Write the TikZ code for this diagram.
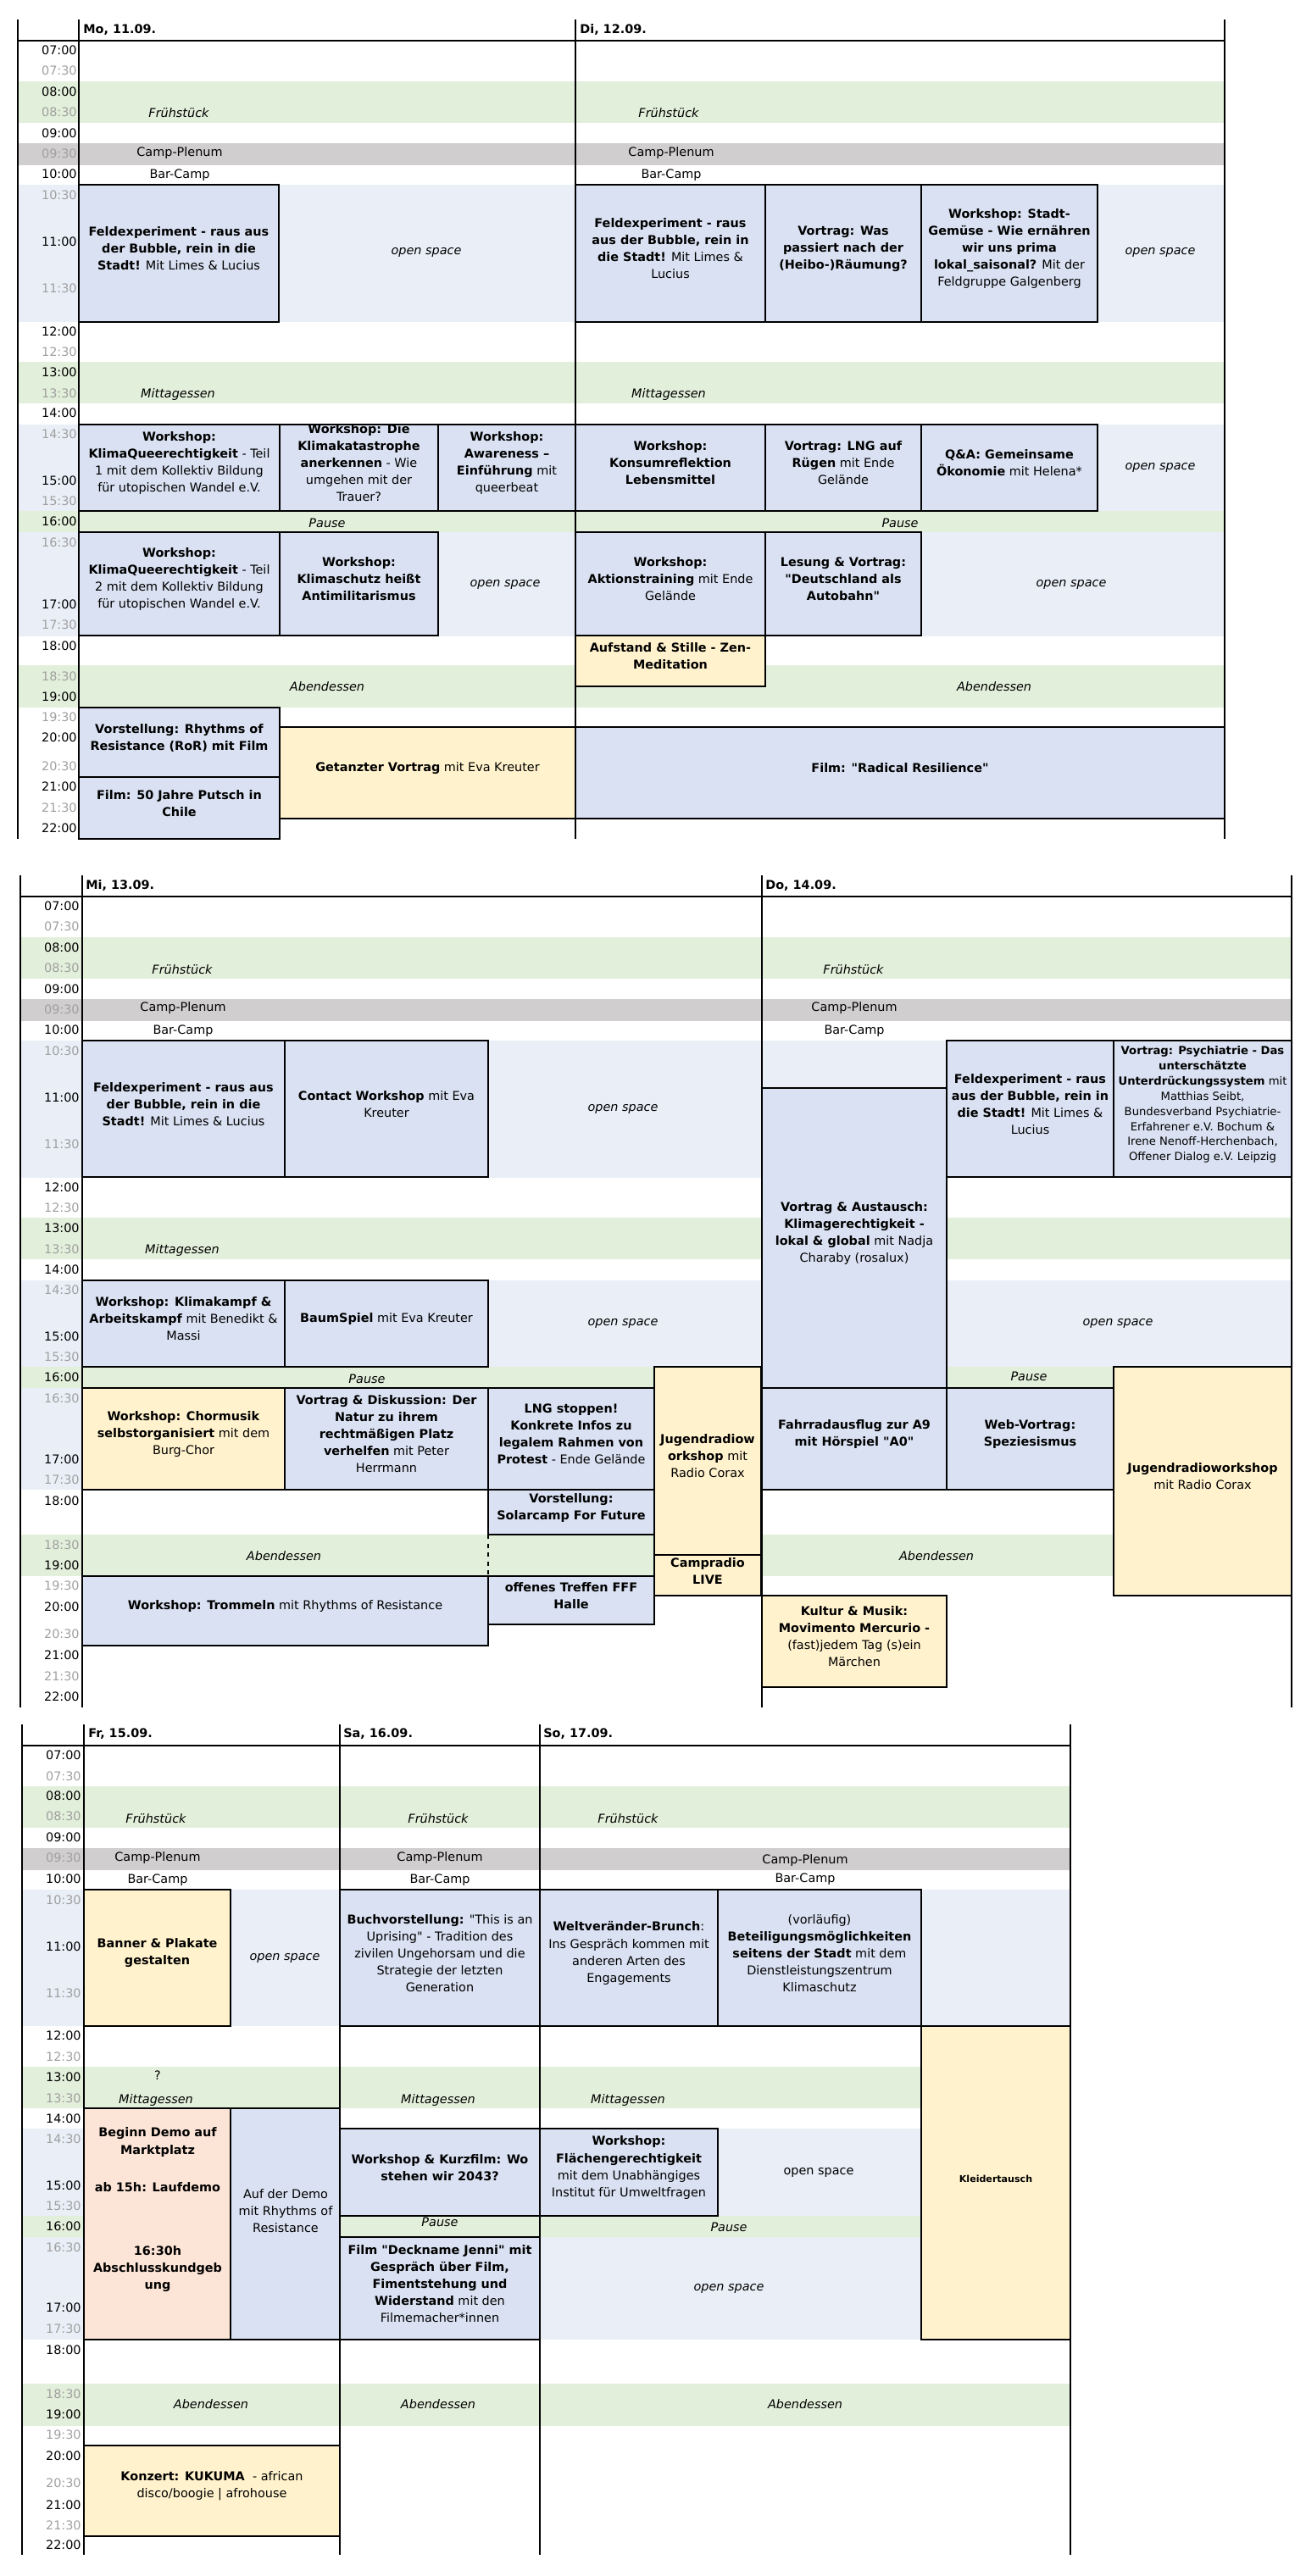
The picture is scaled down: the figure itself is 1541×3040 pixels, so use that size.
\documentclass[tikz,border=0pt]{standalone}
\usepackage{fontspec}
\setmainfont{DejaVu Sans}[Ligatures=TeXOff]
\usetikzlibrary{fit}
\definecolor{evblue}{RGB}{217,225,242}
\definecolor{evyellow}{RGB}{255,242,204}
\definecolor{evsalmon}{RGB}{252,228,214}
\definecolor{bandgreen}{RGB}{226,239,218}
\definecolor{bandgrey}{RGB}{208,206,206}
\definecolor{bandblue}{RGB}{234,238,247}
\definecolor{timegrey}{RGB}{160,160,160}
\newcommand{\evfont}{\fontsize{8.2}{11.4}\selectfont}
\newcommand{\smallevfont}{\fontsize{7.5}{10.2}\selectfont}
\newcommand{\tinyevfont}{\fontsize{6.3}{8}\selectfont}

\begin{document}
\begin{tikzpicture}[
    x=0.02cm, y=-0.02cm,
    talk/.style={rectangle, draw=black, line width=1.1pt, fill=evblue, inner sep=0pt, align=center, font=\evfont},
    fest/.style={talk, fill=evyellow},
    demo/.style={talk, fill=evsalmon},
    pausebox/.style={talk, fill=bandgreen, font=\evfont\itshape},
    grid/.style={line width=1.1pt},
    tlabel/.style={anchor=east, inner sep=0pt, font=\evfont},
    half/.style={tlabel, text=timegrey},
    meal/.style={inner sep=0pt, font=\evfont\itshape},
    plain/.style={inner sep=0pt, align=center, font=\evfont},
    day/.style={anchor=west, inner sep=0pt, font=\evfont\bfseries}
]
\useasboundingbox (0,0) rectangle (1541,3040);

% Background bands (meals, plenum, open space)
\foreach \xa/\ya/\xb/\yb/\c in {
    21/96/1445/145/bandgreen, 21/169/1445/195/bandgrey, 21/218/1445/380/bandblue,
    21/427/1445/476/bandgreen, 21/501/1445/603/bandblue, 21/603/1445/628/bandgreen,
    21/628/1445/751/bandblue, 21/785/1445/835/bandgreen,
    24/1106/1524/1155/bandgreen, 24/1179/1524/1205/bandgrey, 24/1228/1526/1390/bandblue,
    24/1437/1524/1486/bandgreen, 24/1511/1526/1613/bandblue, 24/1613/1524/1638/bandgreen,
    24/1638/1524/1758/bandblue, 24/1811/1524/1860/bandgreen,
    26/2108/1263/2157/bandgreen, 26/2181/1264/2207/bandgrey, 26/2230/1263/2391/bandblue,
    26/2439/1263/2488/bandgreen, 26/2512/1263/2761/bandblue, 26/2615/1263/2640/bandgreen,
    26/2813/1263/2863/bandgreen}
    \fill[\c] (\xa,\ya) rectangle (\xb,\yb);

% Grid lines
\foreach \x in {21,93,679,1445} \draw[grid] (\x,23) -- (\x,990);
\draw[grid] (21,48) -- (1445,48);
\foreach \x in {24,97,899,1524} \draw[grid] (\x,1033) -- (\x,2015);
\draw[grid] (24,1058) -- (1524,1058);
\foreach \x in {26,99,401,637,1263} \draw[grid] (\x,2035) -- (\x,3015);
\draw[grid] (26,2060) -- (1263,2060);
\draw[dashed, line width=0.6pt] (576,1811) -- (576,1860);

% Day headers
\node[day] (dayMo) at (98,35) {Mo, 11.09.};
\node[day] (dayDi) at (684,35) {Di, 12.09.};
\node[day] (dayMi) at (101,1045) {Mi, 13.09.};
\node[day] (dayDo) at (903,1045) {Do, 14.09.};
\node[day] (dayFr) at (104,2046) {Fr, 15.09.};
\node[day] (daySa) at (405,2046) {Sa, 16.09.};
\node[day] (daySo) at (641,2046) {So, 17.09.};

% Time column
\foreach \hh/\y [count=\i] in {07:00/59, 08:00/108, 09:00/157, 10:00/205, 11:00/285, 12:00/391, 13:00/439, 14:00/487, 15:00/567, 16:00/615, 17:00/713, 18:00/762, 19:00/822, 20:00/870, 21:00/928, 22:00/977}
    \node[tlabel] (hA\i) at (91,\y) {\hh};
\foreach \hh/\y [count=\i] in {07:30/83, 08:30/132, 09:30/181, 10:30/230, 11:30/340, 12:30/415, 13:30/464, 14:30/512, 15:30/591, 16:30/640, 17:30/737, 18:30/798, 19:30/846, 20:30/904, 21:30/953}
    \node[half] (mA\i) at (91,\y) {\hh};
\foreach \hh/\y [count=\i] in {07:00/1069, 08:00/1118, 09:00/1167, 10:00/1215, 11:00/1295, 12:00/1401, 13:00/1449, 14:00/1498, 15:00/1577, 16:00/1625, 17:00/1722, 18:00/1771, 19:00/1847, 20:00/1896, 21:00/1953, 22:00/2002}
    \node[tlabel] (hB\i) at (94,\y) {\hh};
\foreach \hh/\y [count=\i] in {07:30/1093, 08:30/1142, 09:30/1191, 10:30/1240, 11:30/1350, 12:30/1425, 13:30/1474, 14:30/1522, 15:30/1601, 16:30/1650, 17:30/1746, 18:30/1823, 19:30/1871, 20:30/1928, 21:30/1978}
    \node[half] (mB\i) at (94,\y) {\hh};
\foreach \hh/\y [count=\i] in {07:00/2071, 08:00/2119, 09:00/2168, 10:00/2217, 11:00/2297, 12:00/2402, 13:00/2451, 14:00/2500, 15:00/2579, 16:00/2627, 17:00/2723, 18:00/2773, 19:00/2849, 20:00/2898, 21:00/2956, 22:00/3003}
    \node[tlabel] (hC\i) at (96,\y) {\hh};
\foreach \hh/\y [count=\i] in {07:30/2096, 08:30/2143, 09:30/2192, 10:30/2242, 11:30/2352, 12:30/2427, 13:30/2476, 14:30/2524, 15:30/2603, 16:30/2652, 17:30/2748, 18:30/2825, 19:30/2873, 20:30/2930, 21:30/2980}
    \node[half] (mC\i) at (96,\y) {\hh};

% Monday
\node[talk, fit={(93,218) (329,380)}] (feldMo) {\textbf{Feldexperiment - raus aus}\\\textbf{der Bubble, rein in die}\\\textbf{Stadt!} Mit Limes \& Lucius};
\node[talk, fit={(93,501) (330,603)}] (queerA) {\textbf{Workshop:}\\\textbf{KlimaQueerechtigkeit} - Teil\\1 mit dem Kollektiv Bildung\\für utopischen Wandel e.V.};
\node[talk, fit={(330,501) (517,603)}] (trauer) {\textbf{Workshop: Die}\\\textbf{Klimakatastrophe}\\\textbf{anerkennen} - Wie\\umgehen mit der\\Trauer?};
\node[talk, fit={(517,501) (679,603)}] (aware) {\textbf{Workshop:}\\\textbf{Awareness –}\\\textbf{Einführung} mit\\queerbeat};
\node[talk, fit={(93,628) (330,750)}] (queerB) {\textbf{Workshop:}\\\textbf{KlimaQueerechtigkeit} - Teil\\2 mit dem Kollektiv Bildung\\für utopischen Wandel e.V.};
\node[talk, fit={(330,628) (517,750)}] (antimil) {\textbf{Workshop:}\\\textbf{Klimaschutz heißt}\\\textbf{Antimilitarismus}};
\node[talk, fit={(93,835) (330,917)}] (ror) {\textbf{Vorstellung: Rhythms of}\\\textbf{Resistance (RoR) mit Film}};
\node[talk, fit={(93,917) (330,990)}] (chile) {\textbf{Film: 50 Jahre Putsch in}\\\textbf{Chile}};
\node[fest, fit={(330,858) (679,966)}] (tanz) {\textbf{Getanzter Vortrag} mit Eva Kreuter};

% Tuesday
\node[talk, fit={(679,218) (903,380)}] (feldDi) {\textbf{Feldexperiment - raus}\\\textbf{aus der Bubble, rein in}\\\textbf{die Stadt!} Mit Limes \&\\Lucius};
\node[talk, fit={(903,218) (1087,380)}] (heibo) {\textbf{Vortrag: Was}\\\textbf{passiert nach der}\\\textbf{(Heibo-)Räumung?}};
\node[talk, fit={(1087,218) (1295,380)}] (gemuese) {\textbf{Workshop: Stadt-}\\\textbf{Gemüse - Wie ernähren}\\\textbf{wir uns prima}\\\textbf{lokal\_saisonal?} Mit der\\Feldgruppe Galgenberg};
\node[talk, fit={(679,501) (903,603)}] (konsum) {\textbf{Workshop:}\\\textbf{Konsumreflektion}\\\textbf{Lebensmittel}};
\node[talk, fit={(903,501) (1087,603)}] (lng) {\textbf{Vortrag: LNG auf}\\\textbf{Rügen} mit Ende\\Gelände};
\node[talk, fit={(1087,501) (1295,603)}] (qa) {\textbf{Q\&A: Gemeinsame}\\\textbf{Ökonomie} mit Helena*};
\node[talk, fit={(679,628) (903,750)}] (aktion) {\textbf{Workshop:}\\\textbf{Aktionstraining} mit Ende\\Gelände};
\node[talk, fit={(903,628) (1087,750)}] (autobahn) {\textbf{Lesung \& Vortrag:}\\\textbf{"Deutschland als}\\\textbf{Autobahn"}};
\node[fest, fit={(679,750) (903,810)}] (zen) {\textbf{Aufstand \& Stille - Zen-}\\\textbf{Meditation}};
\node[talk, fit={(679,858) (1445,966)}] (radical) {\textbf{Film: "Radical Resilience"}};

% Wednesday
\node[talk, fit={(97,1228) (336,1389)}] (feldMi) {\textbf{Feldexperiment - raus aus}\\\textbf{der Bubble, rein in die}\\\textbf{Stadt!} Mit Limes \& Lucius};
\node[talk, fit={(336,1228) (576,1389)}] (contact) {\textbf{Contact Workshop} mit Eva\\Kreuter};
\node[talk, fit={(97,1511) (336,1613)}] (kampf) {\textbf{Workshop: Klimakampf \&}\\\textbf{Arbeitskampf} mit Benedikt \&\\Massi};
\node[talk, fit={(336,1511) (576,1613)}] (baum) {\textbf{BaumSpiel} mit Eva Kreuter};
\node[fest, fit={(97,1638) (336,1758)}] (chor) {\textbf{Workshop: Chormusik}\\\textbf{selbstorganisiert} mit dem\\Burg-Chor};
\node[talk, fit={(336,1638) (576,1758)}] (natur) {\textbf{Vortrag \& Diskussion: Der}\\\textbf{Natur zu ihrem}\\\textbf{rechtmäßigen Platz}\\\textbf{verhelfen} mit Peter\\Herrmann};
\node[talk, fit={(576,1638) (772,1758)}] (lngstop) {\textbf{LNG stoppen!}\\\textbf{Konkrete Infos zu}\\\textbf{legalem Rahmen von}\\\textbf{Protest} - Ende Gelände};
\node[talk, fit={(576,1758) (772,1811)}] (solar) {\textbf{Vorstellung:}\\\textbf{Solarcamp For Future}};
\node[talk, fit={(97,1860) (576,1942)}] (trommel) {\textbf{Workshop: Trommeln} mit Rhythms of Resistance};
\node[talk, fit={(576,1860) (772,1917)}] (fff) {\textbf{offenes Treffen FFF}\\\textbf{Halle}};
\node[fest, fit={(772,1613) (898,1835)}] (radioMi) {\textbf{Jugendradiow}\\\textbf{orkshop} mit\\Radio Corax};
\node[fest, fit={(772,1835) (898,1883)}] (live) {\textbf{Campradio}\\\textbf{LIVE}};

% Thursday
\node[talk, fit={(899,1284) (1117,1638)}] (austausch) {\textbf{Vortrag \& Austausch:}\\\textbf{Klimagerechtigkeit -}\\\textbf{lokal \& global} mit Nadja\\Charaby (rosalux)};
\node[talk, fit={(1117,1228) (1314,1389)}] (feldDo) {\textbf{Feldexperiment - raus}\\\textbf{aus der Bubble, rein in}\\\textbf{die Stadt!} Mit Limes \&\\Lucius};
\node[talk, font=\smallevfont, fit={(1314,1228) (1524,1389)}] (psych) {\textbf{Vortrag: Psychiatrie - Das}\\\textbf{unterschätzte}\\\textbf{Unterdrückungssystem} mit\\Matthias Seibt,\\Bundesverband Psychiatrie-\\Erfahrener e.V. Bochum \&\\Irene Nenoff-Herchenbach,\\Offener Dialog e.V. Leipzig};
\node[talk, fit={(899,1638) (1117,1758)}] (rad) {\textbf{Fahrradausflug zur A9}\\\textbf{mit Hörspiel "A0"}};
\node[talk, fit={(1117,1638) (1314,1758)}] (spezies) {\textbf{Web-Vortrag:}\\\textbf{Speziesismus}};
\node[fest, fit={(1314,1613) (1524,1883)}] (radioDo) {\textbf{Jugendradioworkshop}\\mit Radio Corax};
\node[fest, fit={(899,1883) (1117,1991)}] (maerchen) {\textbf{Kultur \& Musik:}\\\textbf{Movimento Mercurio -}\\(fast)jedem Tag (s)ein\\Märchen};

% Friday
\node[fest, fit={(99,2230) (272,2391)}] (banner) {\textbf{Banner \& Plakate}\\\textbf{gestalten}};
\node[demo, fit={(99,2488) (272,2761)}] (demoFr) {};
\node[plain, font=\evfont\bfseries] (demoA) at (186,2528) {Beginn Demo auf\\Marktplatz};
\node[plain, font=\evfont\bfseries] (demoB) at (186,2581) {ab 15h: Laufdemo};
\node[plain, font=\evfont\bfseries] (demoC) at (186,2678) {16:30h\\Abschlusskundgeb\\ung};
\node[talk, fit={(272,2488) (401,2761)}] (aufDemo) {};
\node[plain] (aufDemoTxt) at (337,2609) {Auf der Demo\\mit Rhythms of\\Resistance};
\node[fest, fit={(99,2886) (401,2993)}] (kukuma) {\textbf{Konzert: KUKUMA}\ \ - african\\disco/boogie | afrohouse};

% Saturday
\node[talk, fit={(401,2230) (637,2391)}] (buch) {\textbf{Buchvorstellung:} "This is an\\Uprising" - Tradition des\\zivilen Ungehorsam und die\\Strategie der letzten\\Generation};
\node[talk, fit={(401,2512) (637,2615)}] (kurzfilm) {\textbf{Workshop \& Kurzfilm: Wo}\\\textbf{stehen wir 2043?}};
\node[pausebox, fit={(401,2615) (637,2640)}] (pauseSa) {Pause};
\node[talk, fit={(401,2640) (637,2761)}] (jenni) {\textbf{Film "Deckname Jenni" mit}\\\textbf{Gespräch über Film,}\\\textbf{Fimentstehung und}\\\textbf{Widerstand} mit den\\Filmemacher*innen};

% Sunday
\node[talk, fit={(637,2230) (847,2391)}] (brunch) {\textbf{Weltveränder-Brunch}:\\Ins Gespräch kommen mit\\anderen Arten des\\Engagements};
\node[talk, fit={(847,2230) (1087,2391)}] (beteil) {(vorläufig)\\\textbf{Beteiligungsmöglichkeiten}\\\textbf{seitens der Stadt} mit dem\\Dienstleistungszentrum\\Klimaschutz};
\node[fest, font=\tinyevfont\bfseries, fit={(1087,2391) (1263,2761)}] (kleider) {Kleidertausch};
\node[talk, fit={(637,2512) (847,2615)}] (flaeche) {\textbf{Workshop:}\\\textbf{Flächengerechtigkeit}\\mit dem Unabhängiges\\Institut für Umweltfragen};

% Band labels
\node[meal] (fruehMo) at (211,133) {Frühstück};
\node[meal] (fruehDi) at (789,133) {Frühstück};
\node[plain] (plenumMo) at (212,181) {Camp-Plenum};
\node[plain] (plenumDi) at (792,181) {Camp-Plenum};
\node[plain] (barMo) at (212,207) {Bar-Camp};
\node[plain] (barDi) at (792,207) {Bar-Camp};
\node[meal] (openMoA) at (503,298) {open space};
\node[meal] (openDiA) at (1369,298) {open space};
\node[meal] (mittagMo) at (210,466) {Mittagessen};
\node[meal] (mittagDi) at (789,466) {Mittagessen};
\node[meal] (openDiB) at (1369,552) {open space};
\node[meal] (pauseMo) at (386,617) {Pause};
\node[meal] (pauseDi) at (1062,617) {Pause};
\node[meal] (openMoB) at (596,690) {open space};
\node[meal] (openDiC) at (1264,690) {open space};
\node[meal] (abendMo) at (386,810) {Abendessen};
\node[meal] (abendDi) at (1173,810) {Abendessen};

\node[meal] (fruehMi) at (215,1144) {Frühstück};
\node[meal] (fruehDo) at (1007,1144) {Frühstück};
\node[plain] (plenumMi) at (216,1190) {Camp-Plenum};
\node[plain] (plenumDo) at (1008,1190) {Camp-Plenum};
\node[plain] (barMi) at (216,1217) {Bar-Camp};
\node[plain] (barDo) at (1008,1217) {Bar-Camp};
\node[meal] (openMiA) at (735,1309) {open space};
\node[meal] (mittagMi) at (215,1476) {Mittagessen};
\node[meal] (openMiB) at (735,1562) {open space};
\node[meal] (openDoA) at (1319,1562) {open space};
\node[meal] (pauseMi) at (433,1627) {Pause};
\node[meal] (pauseDo) at (1214,1624) {Pause};
\node[meal] (abendMi) at (335,1836) {Abendessen};
\node[meal] (abendDo) at (1105,1836) {Abendessen};

\node[meal] (fruehFr) at (184,2146) {Frühstück};
\node[meal] (fruehSa) at (517,2146) {Frühstück};
\node[meal] (fruehSo) at (741,2146) {Frühstück};
\node[plain] (plenumFr) at (186,2192) {Camp-Plenum};
\node[plain] (plenumSa) at (519,2192) {Camp-Plenum};
\node[plain] (plenumSo) at (950,2195) {Camp-Plenum};
\node[plain] (barFr) at (186,2219) {Bar-Camp};
\node[plain] (barSa) at (519,2219) {Bar-Camp};
\node[plain] (barSo) at (950,2218) {Bar-Camp};
\node[meal] (openFr) at (336,2311) {open space};
\node[plain] (fragFr) at (186,2449) {?};
\node[meal] (mittagFr) at (184,2478) {Mittagessen};
\node[meal] (mittagSa) at (517,2478) {Mittagessen};
\node[meal] (mittagSo) at (741,2478) {Mittagessen};
\node[plain] (openSoA) at (966,2564) {open space};
\node[meal] (pauseSo) at (860,2628) {Pause};
\node[meal] (openSoB) at (860,2701) {open space};
\node[meal] (abendFr) at (249,2837) {Abendessen};
\node[meal] (abendSa) at (517,2837) {Abendessen};
\node[meal] (abendSo) at (950,2837) {Abendessen};

\end{tikzpicture}
\end{document}
